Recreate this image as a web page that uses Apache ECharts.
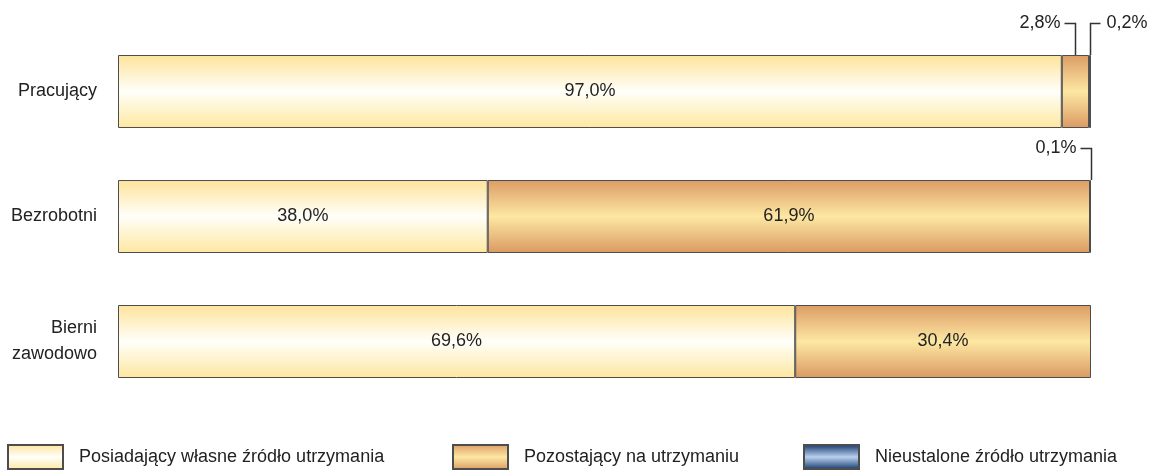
<!DOCTYPE html>
<html>
<head>
<meta charset="utf-8">
<script src="https://cdn.jsdelivr.net/npm/echarts@6/dist/echarts.min.js"></script>
<style>
  html, body { margin: 0; padding: 0; background: #fff; }
  #chart { width: 1152px; height: 474px; }
</style>
</head>
<body>
<div id="chart"></div>
<script>
// dane
var categories = ['Pracujący', 'Bezrobotni', 'Bierni\nzawodowo'];
var seriesNames = ['Posiadający własne źródło utrzymania', 'Pozostający na utrzymaniu', 'Nieustalone źródło utrzymania'];
var ownIncome = [97.0, 38.0, 69.6];
var dependent = [2.8, 61.9, 30.4];
var unknown = [0.2, 0.1, 0];

var BAR_W = 73;
var FONT = 'Liberation Sans, Arial, sans-serif';

function grad(top, mid, bottom) {
  return {
    type: 'linear', x: 0, y: 0, x2: 0, y2: 1,
    colorStops: [
      { offset: 0, color: top },
      { offset: 0.5, color: mid },
      { offset: 1, color: bottom }
    ]
  };
}
var colors = [
  grad('#fee39a', '#fffffa', '#fee7a0'),
  grad('#dc9c64', '#fde7a3', '#da9a62'),
  grad('#0f3468', '#b9d0ee', '#0f3468')
];

function fmt(v) { return v.toFixed(1).replace('.', ',') + '%'; }

// male wartosci opisane linia odnosnika
var values = [ownIncome, dependent, unknown];
var notes = [];
categories.forEach(function (c, i) {
  var start = 0, prevNoted = false;
  values.forEach(function (arr) {
    var v = arr[i];
    if (v > 0 && v < 5) {
      notes.push([start + v / 2, i, v, prevNoted ? 1 : 0]);
      prevNoted = true;
    }
    start += v;
  });
});

function barSeries(k) {
  return {
    name: seriesNames[k],
    type: 'bar',
    stack: 'all',
    barWidth: BAR_W,
    itemStyle: { color: colors[k], borderColor: '#4d4d4d', borderWidth: 1 },
    emphasis: { disabled: true },
    label: {
      show: true,
      position: 'inside',
      fontFamily: FONT,
      fontSize: 18,
      color: '#222',
      formatter: function (p) { return p.value >= 5 ? fmt(p.value) : ''; }
    },
    data: values[k].map(function (v) { return v > 0 ? v : '-'; })
  };
}

function legendFor(k, left) {
  return {
    data: [seriesNames[k]],
    left: left,
    top: 444,
    padding: 0,
    itemWidth: 55,
    itemHeight: 24,
    icon: 'rect',
    selectedMode: false,
    textStyle: { fontFamily: FONT, fontSize: 18, color: '#222', padding: [0, 0, 0, 11] }
  };
}

var chart = echarts.init(document.getElementById('chart'));
chart.setOption({
  animation: false,
  grid: { left: 118, right: 61, top: 29, bottom: 70 },
  xAxis: { type: 'value', min: 0, max: 100, show: false },
  yAxis: {
    type: 'category',
    data: categories,
    inverse: true,
    axisLine: { show: false },
    axisTick: { show: false },
    axisLabel: { fontFamily: FONT, fontSize: 18, color: '#222', margin: 21, lineHeight: 26 }
  },
  legend: [legendFor(0, 7), legendFor(1, 452), legendFor(2, 803)],
  series: [
    barSeries(0),
    barSeries(1),
    barSeries(2),
    {
      type: 'custom',
      clip: false,
      silent: true,
      z: 5,
      encode: { x: 0, y: 1 },
      data: notes,
      renderItem: function (params, api) {
        var p = api.coord([api.value(0), api.value(1)]);
        var x = Math.round(p[0]) + 0.5;
        var top = p[1] - BAR_W / 2;
        var y = Math.round(top - 32) + 0.5;
        var right = api.value(3) === 1;
        var hx = right ? x + 10 : x - 11;
        return {
          type: 'group',
          children: [
            {
              type: 'polyline',
              shape: { points: [[x, top], [x, y], [hx, y]] },
              style: { stroke: '#333', lineWidth: 1.5, fill: null }
            },
            {
              type: 'text',
              style: {
                text: fmt(api.value(2)),
                x: right ? hx + 6 : hx - 4,
                y: y,
                align: right ? 'left' : 'right',
                verticalAlign: 'middle',
                font: '18px ' + FONT,
                fill: '#222'
              }
            }
          ]
        };
      }
    }
  ]
});
</script>
</body>
</html>
